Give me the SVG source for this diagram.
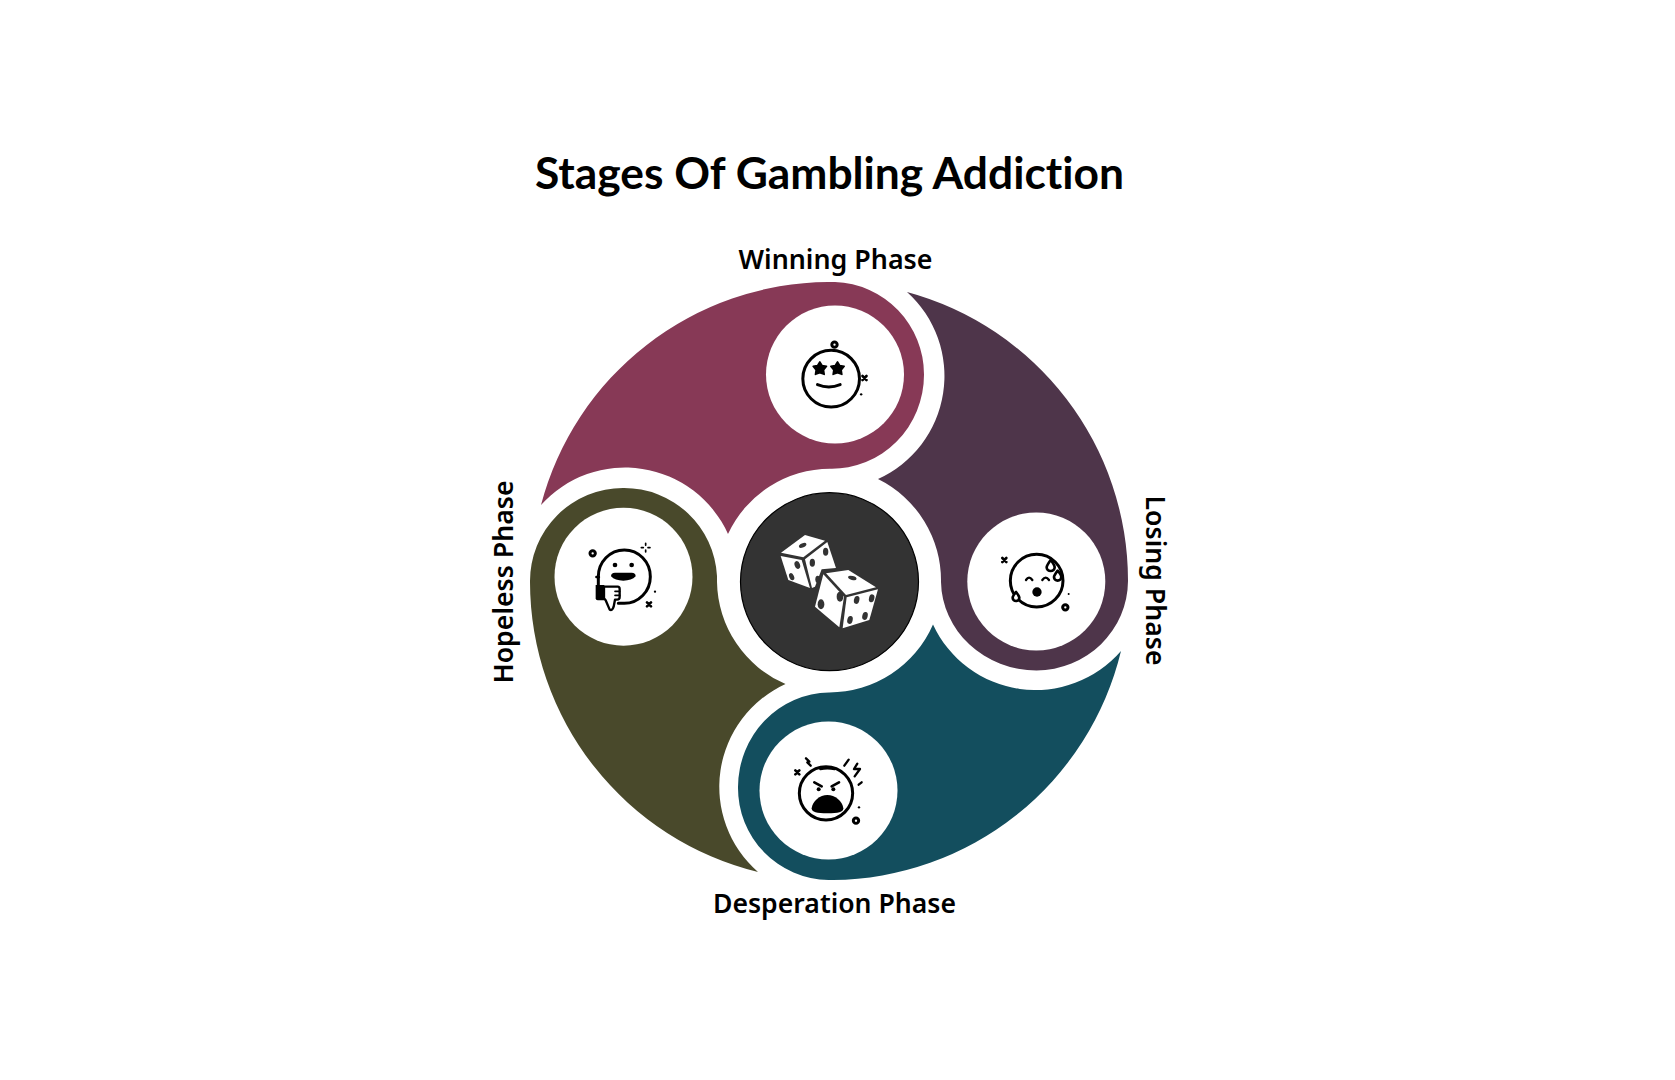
<svg xmlns="http://www.w3.org/2000/svg" width="1675" height="1080" viewBox="0 0 1675 1080">
<defs>
<style>
.title{font-family:"Lato","Noto Sans",sans-serif;font-weight:700;font-size:43px;fill:#000;font-variant-ligatures:none}
.lbl{font-family:"Noto Sans","Open Sans",sans-serif;font-weight:600;font-size:27px;fill:#000}
.disc{fill:#fff}
.ln{fill:none;stroke:#000;stroke-width:7;stroke-linecap:round;stroke-linejoin:round}
.thin{stroke-width:9}
.solid{fill:#000;stroke:none}
.star{fill:#000;stroke:#000;stroke-width:5;stroke-linejoin:round}
.die{fill:#fff;stroke:none}
.pip{fill:#333}
</style>
<g id="x-mark"><path class="ln" style="stroke-width:8" d="M-6 -6L6 6M6 -6L-6 6"/></g>
<path id="star" class="star" d="M0 -20L7 -9L20 -7L11 4L13 17L0 12L-13 17L-11 4L-20 -7L-7 -9Z"/>
</defs>
<rect width="1675" height="1080" fill="#fff"/>
<text id="title" class="title" x="829.500" y="189" text-anchor="middle" textLength="589" lengthAdjust="spacingAndGlyphs">Stages Of Gambling Addiction</text>

<g id="node-winning">
<path fill="#873956" d="M541 505A299 299 0 0 1 828 282L835 282A92.500 92.500 0 0 1 924 374.500A92 94 0 0 1 830 468.700A113 113 0 0 0 728 534A113 113 0 0 0 541 505Z"/>
<circle class="disc" cx="835" cy="374.500" r="69"/>
<g transform="translate(778.500 330) scale(.3333)">
<circle class="ln thin" cx="158" cy="146" r="85"/>
<circle class="ln thin" cx="168" cy="44" r="8"/>
<use href="#star" x="124" y="116"/>
<use href="#star" x="177" y="116"/>
<path class="ln thin" d="M117 164Q151 178 185 164"/>
<use href="#x-mark" x="258" y="144"/>
<circle class="solid" cx="248" cy="193" r="3.500"/>
</g>
<text class="lbl" x="835.500" y="268.500" text-anchor="middle" textLength="194" lengthAdjust="spacingAndGlyphs">Winning Phase</text>
</g>

<g id="node-losing">
<path fill="#4e354a" d="M907 292A299 299 0 0 1 1128 581A92 90 0 0 1 1036.500 670.500A96 90 0 0 1 941 582A113 113 0 0 0 878 479A113 113 0 0 0 907 292Z"/>
<circle class="disc" cx="1036.300" cy="581.500" r="69"/>
<g transform="translate(990 540) scale(.3333)">
<circle class="ln thin" cx="140" cy="122" r="79"/>
<use href="#x-mark" x="43" y="60"/>
<path class="ln" style="fill:#fff;stroke-width:8" d="M182 60C172 74 170 80 170 82A12 11 0 0 0 194 82C194 78 190 70 182 60Z"/>
<path class="ln" style="fill:#fff;stroke-width:8" d="M203 92C194 104 192 108 192 111A11 11 0 0 0 214 111C214 106 210 100 203 92Z"/>
<path class="ln" style="fill:#fff;stroke-width:8" d="M78 156C70 166 68 170 68 173A10 10 0 0 0 88 173C88 169 84 164 78 156Z"/>
<path class="ln" d="M108 120Q117 106 127 120M157 120Q167 106 177 120"/>
<circle class="solid" cx="141" cy="156" r="14"/>
<circle class="solid" cx="236" cy="162" r="3"/>
<circle class="ln thin" cx="226" cy="202" r="8"/>
</g>
<text class="lbl" transform="translate(1146 580.500) rotate(90)" text-anchor="middle" textLength="170" lengthAdjust="spacingAndGlyphs">Losing Phase</text>
</g>

<g id="node-desperation">
<path fill="#134e5e" d="M1121 651A299 299 0 0 1 833 880L828.500 880A92 92 0 0 1 738 787A92 95 0 0 1 829 692.500A113 113 0 0 0 933 624.500A113 113 0 0 0 1121 651Z"/>
<circle class="disc" cx="828.500" cy="790.500" r="69"/>
<g transform="translate(780 745) scale(.3333)">
<circle class="ln thin" cx="138" cy="145" r="80"/>
<path class="ln" d="M121 72Q142 68 164 72"/>
<path class="solid" d="M95 190C97 168 120 150 142 150C165 150 188 168 190 190C190 202 175 205 142 205C110 205 95 202 95 190Z"/>
<path class="ln" style="stroke-width:8" d="M103 112L125 124M177 112L155 124"/>
<circle class="solid" cx="116" cy="133" r="6"/>
<circle class="solid" cx="160" cy="133" r="6"/>
<use href="#x-mark" x="52" y="82"/>
<path class="ln" d="M78 40L88 50L82 52L92 62"/>
<path class="ln" d="M206 44L193 62"/>
<path class="ln" d="M232 56L222 72L240 72L224 94"/>
<path class="ln" d="M245 112L236 119"/>
<circle class="solid" cx="237" cy="187" r="3.500"/>
<circle class="ln thin" cx="228" cy="227" r="8"/>
</g>
<text class="lbl" x="834.500" y="912.500" text-anchor="middle" textLength="243" lengthAdjust="spacingAndGlyphs">Desperation Phase</text>
</g>

<g id="node-hopeless">
<path fill="#49492b" d="M758 872A299 299 0 0 1 530 582A93 93 0 0 1 623.500 488A93 93 0 0 1 717 576L717 582A113 113 0 0 0 785.500 684A113 113 0 0 0 758 872Z"/>
<circle class="disc" cx="623.500" cy="576.700" r="69"/>
<g transform="translate(575 535) scale(.3333)">
<path class="ln thin" d="M70 150V125A78 80 0 1 1 148 205H130"/>
<path class="ln" d="M64 126H72"/>
<circle class="solid" cx="120" cy="90" r="7"/>
<circle class="solid" cx="170" cy="90" r="7"/>
<path class="solid" d="M108 124Q108 113 120 113H170Q182 113 182 124Q170 137 145 137Q120 137 108 124Z"/>
<path class="solid" d="M62 150H88V196H68Q62 196 62 190Z"/>
<path class="ln" style="fill:#fff" d="M87 155H128Q134 155 134 162V186Q134 194 126 194H120L116 215Q112 228 104 224L92 196L87 190Z"/>
<path class="ln" style="stroke-width:5" d="M120 169H134M120 181H134"/>
<path class="ln" style="stroke-width:5" d="M212 25V31M212 45V51M199 38H205M219 38H225"/>
<circle class="ln thin" cx="53" cy="55" r="8"/>
<circle class="solid" cx="240" cy="170" r="3.500"/>
<use href="#x-mark" x="222" y="208"/>
</g>
<text class="lbl" transform="translate(512.500 582) rotate(-90)" text-anchor="middle" textLength="203" lengthAdjust="spacingAndGlyphs">Hopeless Phase</text>
</g>

<g id="node-center">
<circle cx="829.500" cy="581.700" r="89" fill="#333" stroke="#000" stroke-width="1.200"/>
<g transform="translate(720 480) scale(.3333)">
<path class="die" d="M183 218L255 165L315 182L250 232Z"/>
<path class="die" d="M255 238L322 186L348 264L305 268L285 320L276 324Z"/>
<path class="die" d="M182 228L245 240L270 324L205 300Z"/>
<ellipse class="pip" cx="248" cy="196" rx="12" ry="6" transform="rotate(-25 248 196)"/>
<ellipse class="pip" cx="317" cy="215" rx="8" ry="12"/>
<ellipse class="pip" cx="277" cy="248" rx="8" ry="12"/>
<ellipse class="pip" cx="293" cy="298" rx="7" ry="11"/>
<ellipse class="pip" cx="232" cy="255" rx="8" ry="12" transform="rotate(-20 232 255)"/>
<ellipse class="pip" cx="215" cy="290" rx="7" ry="11" transform="rotate(-25 215 290)"/>
<path class="die" d="M318 280L385 270L468 322L378 345Z"/>
<path class="die" d="M310 283L372 350L358 442L285 380Z"/>
<path class="die" d="M380 352L474 328L448 420L368 445Z"/>
<ellipse class="pip" cx="397" cy="294" rx="13" ry="6" transform="rotate(15 397 294)"/>
<ellipse class="pip" cx="360" cy="350" rx="10" ry="15"/>
<ellipse class="pip" cx="303" cy="373" rx="10" ry="15"/>
<ellipse class="pip" cx="410" cy="360" rx="8" ry="12" transform="rotate(15 410 360)"/>
<ellipse class="pip" cx="455" cy="355" rx="8" ry="12" transform="rotate(15 455 355)"/>
<ellipse class="pip" cx="390" cy="420" rx="8" ry="12" transform="rotate(15 390 420)"/>
<ellipse class="pip" cx="435" cy="408" rx="8" ry="12" transform="rotate(15 435 408)"/>
</g>
</g>
<g id="connectors"/>
</svg>
